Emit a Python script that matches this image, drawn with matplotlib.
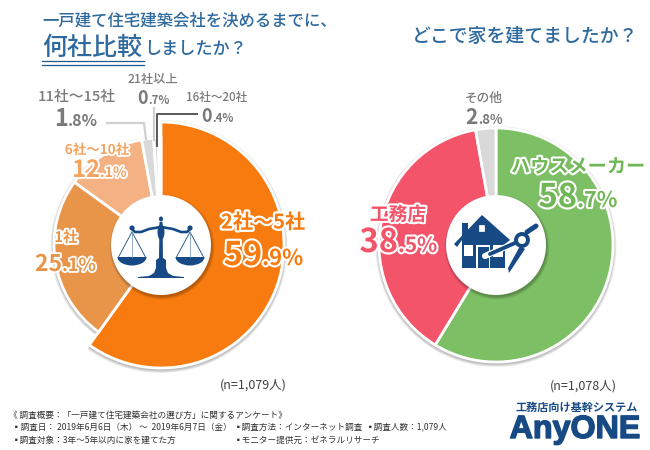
import matplotlib
matplotlib.use("Agg")
import matplotlib.pyplot as plt
import matplotlib.patheffects as pe
from matplotlib.patches import Circle, Polygon, Rectangle, Wedge, Ellipse

plt.rcParams['font.family'] = ['Noto Sans CJK JP', 'DejaVu Sans']

left_labels = ['2社〜5社', '1社', '6社〜10社', '11社〜15社', '21社以上', '16社〜20社']
left_values = [59.9, 25.1, 12.1, 1.8, 0.7, 0.4]
left_colors = ['#F77B0F', '#E8954A', '#F4B183', '#D9D9D9', '#D9D9D9', '#7F7F7F']
right_labels = ['ハウスメーカー', '工務店', 'その他']
right_values = [58.7, 38.5, 2.8]
right_colors = ['#7DBF64', '#F4546A', '#D9D9D9']

fig = plt.figure(figsize=(6.5, 4.5), dpi=100)
ax = fig.add_axes([0, 0, 1, 1])


def Y(p):
    return 450 - p


NAVY = '#174A84'
TITLE = '#2F6A9E'
GREY = '#7A7A7A'


def draw_pie(values, colors, cx, cy, radii):
    wedges, _ = ax.pie(values, colors=colors, startangle=90, counterclock=False, center=(cx, Y(cy)),
                       radius=radii[0], frame=True,
                       wedgeprops=dict(edgecolor='white', linewidth=2.0, zorder=2))
    for w, r in zip(wedges, radii):
        w.set_radius(r)
        for i in range(4):
            ax.add_patch(Wedge((cx, Y(cy + 1.5)), r + 1 + i * 0.8, w.theta1, w.theta2,
                               fc='#000000', alpha=0.07, lw=0, zorder=1))
    for i in range(4):
        ax.add_patch(Circle((cx + 1, Y(cy + 2)), 50 + i * 0.8, fc='#000000', alpha=0.07, lw=0, zorder=3))
    ax.add_patch(Circle((cx, Y(cy)), 50, fc='white', ec='none', zorder=3.5))


draw_pie(left_values, left_colors, 161, 245, [123, 107, 107, 107, 107, 107])
draw_pie(right_values, right_colors, 496, 245, [117, 117, 117])
ax.set_xlim(0, 650)
ax.set_ylim(0, 450)
ax.set_aspect('equal')
ax.axis('off')


def pct(value, x, y, big, small, color, stroke=0.0):
    a, b = f'{value:.1f}'.split('.')
    kw = dict(path_effects=[pe.withStroke(linewidth=stroke, foreground='white')]) if stroke else {}
    ax.text(x, Y(y), a, ha='right', va='baseline', fontsize=big, color=color, fontweight='bold', zorder=6, **kw)
    ax.text(x, Y(y), f'.{b}%', ha='left', va='baseline', fontsize=small, color=color, fontweight='bold', zorder=6, **kw)


def label(s, x, y, size, color, bold=False, stroke=0.0):
    kw = dict(path_effects=[pe.withStroke(linewidth=stroke, foreground='white')]) if stroke else {}
    ax.text(x, Y(y), s, ha='center', va='center', fontsize=size, color=color,
            fontweight='bold' if bold else 'medium', zorder=6, **kw)


# titles
ax.text(42, Y(21), '一戸建て住宅建築会社を決めるまでに、', fontsize=11.8, color=TITLE, va='center', ha='left', fontweight='medium')
ax.text(42, Y(48), '何社比較', fontsize=18, color=TITLE, va='center', ha='left', fontweight='medium')
ax.text(144, Y(49), 'しましたか？', fontsize=12.3, color=TITLE, va='center', ha='left', fontweight='medium')
for py in (61, 65):
    ax.plot([42, 144], [Y(py), Y(py)], color='#1F5A8F', lw=0.9, zorder=5)
ax.text(525, Y(36), 'どこで家を建てましたか？', fontsize=13.6, color=TITLE, va='center', ha='center', fontweight='medium')

# left labels
ORANGE = '#F77B0F'
label(left_labels[0], 263, 222, 14.5, ORANGE, True, 3.2)
pct(left_values[0], 262, 265, 23.5, 15.8, ORANGE, 3.0)
label(left_labels[1], 66, 237, 10.5, '#E8954A', True, 2.8)
pct(left_values[1], 62, 271, 16.5, 13, '#E8954A', 2.6)
label(left_labels[2], 97, 150, 9.7, '#F4A460', True, 2.6)
pct(left_values[2], 100, 177, 17, 10.2, '#F4A460', 2.6)
label(left_labels[3], 77, 97, 10.6, GREY)
pct(left_values[3], 68, 126, 17, 11.5, GREY)
label(left_labels[4], 153, 80, 8.8, GREY)
pct(left_values[4], 148, 104, 13, 8.2, GREY)
label(left_labels[5], 217, 97, 8.4, GREY)
pct(left_values[5], 212, 122, 13, 8.2, GREY)

# right labels
label(right_labels[0], 578, 167, 13.8, '#70B857', True, 3.0)
pct(right_values[0], 577, 207, 23.5, 15.5, '#70B857', 3.0)
label(right_labels[1], 398, 215, 13.5, '#F4546A', True, 3.0)
pct(right_values[1], 398, 252, 23.5, 15, '#F4546A', 3.0)
label(right_labels[2], 484, 98, 9.1, GREY)
pct(right_values[2], 478, 124, 15, 9.5, GREY)

# leader lines
ax.plot([107, 144, 146], [Y(123), Y(123), Y(139)], color='#D0D0D0', lw=1.6, zorder=4)
ax.plot([154, 154], [Y(108), Y(140)], color='#D0D0D0', lw=1.6, zorder=4)
ax.plot([197, 157, 157], [Y(114), Y(114), Y(146)], color='#595959', lw=1.4, zorder=4)

# sample sizes
ax.text(253, Y(385), '(n=1,079人)', fontsize=9, color='#404040', va='center', ha='center')
ax.text(583, Y(386), '(n=1,078人)', fontsize=9, color='#404040', va='center', ha='center')

# footnotes
FOOT = '#333333'
FS = 6.2
ax.text(9, Y(415), '《 調査概要：「一戸建て住宅建築会社の選び方」に関するアンケート》', fontsize=FS, color=FOOT, va='center')
ax.text(12, Y(427), '▪調査日： 2019年6月6日（木） 〜  2019年6月7日（金）', fontsize=FS, color=FOOT, va='center')
ax.text(234, Y(427), '▪調査方法：インターネット調査', fontsize=FS, color=FOOT, va='center')
ax.text(366, Y(427), '▪調査人数：1,079人', fontsize=FS, color=FOOT, va='center')
ax.text(12, Y(440), '▪調査対象：3年〜5年以内に家を建てた方', fontsize=FS, color=FOOT, va='center')
ax.text(234, Y(440), '▪モニター提供元：ゼネラルリサーチ', fontsize=FS, color=FOOT, va='center')

# logo
ax.text(577, Y(407), '工務店向け基幹システム', fontsize=8, color=NAVY, va='center', ha='center', fontweight='bold')
ax.text(575, Y(438), 'AnyONE', fontsize=23.2, color=NAVY, va='baseline', ha='center', fontweight='bold',
        family=['Liberation Sans', 'DejaVu Sans'], path_effects=[pe.withStroke(linewidth=1.0, foreground=NAVY)])


def P(pts, z=5, c=NAVY):
    ax.add_patch(Polygon([(x, Y(y)) for x, y in pts], closed=True, fc=c, ec='none', zorder=z))


def L(pts, lw=1.0, c=NAVY, z=5):
    ax.plot([p[0] for p in pts], [Y(p[1]) for p in pts], color=c, lw=lw, zorder=z, solid_capstyle='round')


# scale icon
cx = 161
P([(cx - 1.5, 222), (cx + 1.5, 222), (cx + 2, 258), (cx + 5, 260), (cx + 5, 268), (cx + 7, 273), (cx + 12, 276),
   (cx + 23, 277), (cx + 23, 278), (cx - 23, 278), (cx - 23, 277), (cx - 12, 276), (cx - 7, 273), (cx - 5, 268),
   (cx - 5, 260), (cx - 2, 258)])
ax.add_patch(Ellipse((cx, Y(219)), 4, 5, fc=NAVY, ec='none', zorder=5))
ax.add_patch(Ellipse((cx, Y(232)), 7, 16, fc=NAVY, ec='none', zorder=5))
for s in (-1, 1):
    L([(cx + s * 29, 229), (cx + s * 26, 232), (cx + s * 20, 232), (cx + s * 12, 229), (cx, 227)], 1.9)
    ax.add_patch(Circle((cx + s * 29, Y(228)), 2.6, fc=NAVY, ec='none', zorder=5))
    ax.add_patch(Ellipse((cx + s * 29, Y(257)), 29, 17, fc=NAVY, ec='none', zorder=4.8))
    ax.add_patch(Rectangle((cx + s * 29 - 16, Y(257)), 32, 10, fc='white', ec='none', zorder=4.9))
    L([(cx + s * 29, 232), (cx + s * 15.5, 257)], 0.6, z=5)
    L([(cx + s * 29, 232), (cx + s * 42.5, 257)], 0.6, z=5)
    L([(cx + s * 29, 232), (cx + s * 29, 257)], 0.6, c='#7F9FC0', z=5)

# house icon
P([(454, 244), (482, 215), (510, 240), (505, 244), (505, 268), (462, 268), (462, 240), (457, 247)])
P([(462, 223), (468, 223), (468, 236), (462, 236)])
ax.add_patch(Rectangle((478.5, Y(232)), 6.5, 7, fc='white', ec=NAVY, lw=0.2, zorder=6))
ax.add_patch(Rectangle((464, Y(256)), 9, 11, fc='white', ec='none', zorder=6))
ax.add_patch(Rectangle((476, Y(269)), 14, 24, fc='white', ec='none', zorder=6))
ax.add_patch(Rectangle((477.5, Y(267.5)), 11, 21, fc=NAVY, ec='none', zorder=6))
ax.add_patch(Rectangle((493, Y(257)), 10, 12, fc='white', ec='none', zorder=6))
# compass
L([(527, 232), (536, 226)], 3.6, z=7)
L([(515, 243), (485, 256)], 4.4, c='white', z=6.5)
L([(515, 243), (490, 254)], 2.8, z=7)
L([(522, 248), (510, 268)], 4.6, c='white', z=6.5)
P([(520, 246), (525, 249), (511, 270), (509, 273), (508, 268)], z=7)
ax.add_patch(Circle((522, Y(240)), 6, fc='white', ec=NAVY, lw=2.8, zorder=7))

fig.savefig('out.png', dpi=100)
